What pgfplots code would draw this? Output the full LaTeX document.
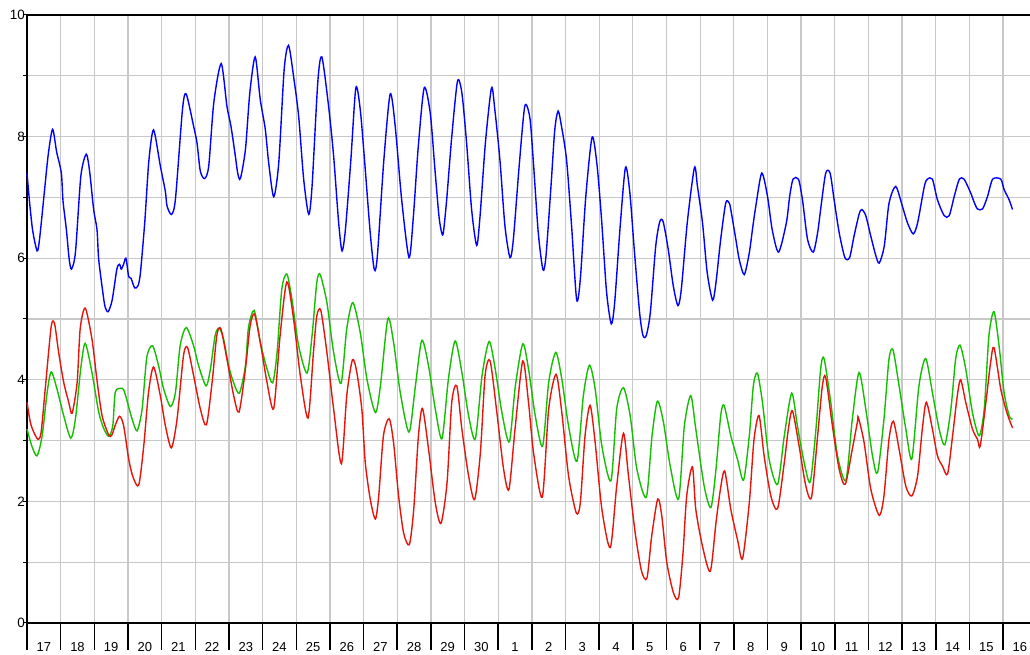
\documentclass[border=0pt]{standalone}
\usepackage{fontspec}
\setmainfont{Liberation Sans}
\usepackage{pgfplots}
\pgfplotsset{compat=1.18}
\definecolor{cblue}{RGB}{0,0,255}
\definecolor{cred}{RGB}{230,20,10}
\definecolor{cgreen}{RGB}{20,190,0}
\definecolor{cgrid}{RGB}{200,200,200}
\begin{document}
\begin{tikzpicture}
\useasboundingbox (-27pt,-32pt) rectangle (1003pt,623pt);
\begin{axis}[
  scale only axis, width=1003pt, height=608pt,
  xmin=0, xmax=29.8, ymin=0, ymax=10,
  clip=false,
  axis x line*=bottom, axis y line*=left,
  axis line style={black, line width=1.5pt},
  xtick={0.5,1.5,...,29.5},
  xticklabels={17,18,19,20,21,22,23,24,25,26,27,28,29,30,1,2,3,4,5,6,7,8,9,10,11,12,13,14,15,16},
  minor xtick={0,...,29},
  ytick={0,...,10},
  yticklabels={0,,2,,4,,6,,8,,10},
  tick align=outside,
  major tick length=4pt,
  minor tick length=27pt,
  major x tick style={draw=none},
  minor x tick style={black, line width=1.5pt},
  y tick style={black, line width=1pt},
  xticklabel style={font=\fontsize{13}{15}\selectfont, anchor=north, inner sep=0pt, yshift=-15pt},
  yticklabel style={font=\fontsize{13.5}{15}\selectfont, anchor=east, inner sep=0pt, xshift=2pt},
  xmajorgrids=false, xminorgrids=true, ymajorgrids=true,
  major grid style={cgrid, line width=1.3pt},
  minor grid style={cgrid, line width=1.3pt},
  every axis plot/.append style={line width=1.4pt, smooth, tension=0.45},
]
\addplot[cblue] coordinates {
(0,7.40)(0.08,6.9)(0.17,6.45)(0.30,6.12)(0.37,6.30)(0.50,7.0)(0.63,7.7)(0.76,8.12)(0.88,7.75)(1.02,7.40)(1.07,6.94)(1.17,6.47)(1.25,6.0)(1.32,5.82)(1.44,6.10)(1.60,7.35)(1.76,7.71)(1.86,7.43)(1.98,6.80)(2.08,6.47)(2.13,5.98)(2.25,5.45)(2.32,5.20)(2.41,5.12)(2.53,5.31)(2.67,5.82)(2.75,5.90)(2.80,5.82)(2.87,5.90)(2.94,6.00)(3.02,5.70)(3.09,5.67)(3.20,5.51)(3.30,5.55)(3.37,5.76)(3.50,6.6)(3.62,7.6)(3.76,8.11)(3.96,7.52)(4.11,7.10)(4.16,6.86)(4.29,6.72)(4.41,6.97)(4.62,8.45)(4.73,8.70)(4.95,8.17)(5.05,7.90)(5.15,7.43)(5.28,7.31)(5.40,7.52)(5.55,8.56)(5.77,9.20)(5.94,8.50)(6.06,8.17)(6.19,7.68)(6.26,7.40)(6.34,7.31)(6.49,7.79)(6.62,8.72)(6.78,9.31)(6.93,8.61)(7.08,8.12)(7.18,7.57)(7.33,7.01)(7.48,7.57)(7.64,9.1)(7.77,9.50)(7.92,8.99)(8.07,8.34)(8.22,7.30)(8.37,6.72)(8.47,7.19)(8.64,8.9)(8.76,9.31)(8.96,8.50)(9.11,7.68)(9.26,6.58)(9.36,6.12)(9.46,6.47)(9.62,7.6)(9.77,8.80)(9.90,8.45)(10.03,7.6)(10.20,6.4)(10.32,5.81)(10.41,6.04)(10.60,7.6)(10.79,8.70)(10.94,8.17)(11.13,6.97)(11.35,6.01)(11.48,6.69)(11.62,7.8)(11.80,8.80)(11.98,8.39)(12.12,7.46)(12.24,6.69)(12.32,6.42)(12.37,6.42)(12.47,6.97)(12.62,8.0)(12.79,8.91)(12.92,8.72)(13.06,7.90)(13.21,6.80)(13.36,6.21)(13.46,6.69)(13.62,7.9)(13.80,8.80)(13.90,8.44)(14.05,7.62)(14.20,6.53)(14.35,6.01)(14.45,6.31)(14.62,7.5)(14.79,8.50)(14.94,8.31)(15.04,7.62)(15.19,6.42)(15.33,5.81)(15.42,6.04)(15.57,7.2)(15.68,8.11)(15.78,8.42)(15.88,8.17)(16.03,7.62)(16.18,6.53)(16.33,5.32)(16.44,5.66)(16.60,7.0)(16.79,7.99)(16.94,7.51)(17.07,6.64)(17.22,5.44)(17.36,4.92)(17.46,5.27)(17.62,6.5)(17.78,7.49)(17.91,7.08)(18.05,6.09)(18.20,5.11)(18.30,4.73)(18.40,4.73)(18.52,5.11)(18.68,6.2)(18.80,6.60)(18.90,6.60)(19.05,6.15)(19.20,5.55)(19.34,5.22)(19.44,5.49)(19.62,6.6)(19.83,7.49)(19.92,7.18)(20.07,6.58)(20.21,5.76)(20.37,5.31)(20.47,5.60)(20.61,6.31)(20.76,6.91)(20.86,6.91)(20.91,6.80)(21.06,6.31)(21.16,5.98)(21.31,5.73)(21.46,6.09)(21.56,6.50)(21.66,6.88)(21.83,7.40)(22.00,7.02)(22.14,6.47)(22.33,6.10)(22.56,6.58)(22.66,7.02)(22.76,7.30)(22.92,7.30)(23.04,6.96)(23.19,6.31)(23.36,6.10)(23.49,6.42)(23.59,6.85)(23.73,7.40)(23.86,7.40)(23.98,6.96)(24.13,6.42)(24.30,6.01)(24.44,6.01)(24.57,6.36)(24.72,6.72)(24.80,6.80)(24.92,6.70)(25.07,6.36)(25.22,6.04)(25.32,5.92)(25.47,6.20)(25.61,6.90)(25.81,7.18)(26.01,6.85)(26.16,6.58)(26.33,6.40)(26.46,6.58)(26.66,7.18)(26.75,7.30)(26.90,7.30)(27.05,6.96)(27.25,6.70)(27.40,6.70)(27.55,7.02)(27.70,7.30)(27.84,7.30)(28.04,7.07)(28.14,6.92)(28.24,6.81)(28.39,6.81)(28.54,7.02)(28.69,7.30)(28.93,7.30)(29.03,7.13)(29.18,6.96)(29.28,6.80)
};
\addplot[cgreen] coordinates {
(0.00,3.19)(0.15,2.90)(0.30,2.75)(0.45,3.08)(0.60,3.8)(0.72,4.13)(0.89,3.85)(1.09,3.41)(1.30,3.04)(1.44,3.36)(1.60,4.2)(1.73,4.60)(1.93,4.12)(2.13,3.47)(2.28,3.20)(2.43,3.07)(2.55,3.25)(2.62,3.79)(2.77,3.86)(2.87,3.84)(2.97,3.66)(3.12,3.36)(3.27,3.16)(3.42,3.52)(3.56,4.37)(3.73,4.56)(3.91,4.23)(4.06,3.85)(4.26,3.56)(4.41,3.79)(4.55,4.56)(4.73,4.86)(4.95,4.56)(5.10,4.23)(5.32,3.90)(5.45,4.18)(5.59,4.73)(5.71,4.85)(5.84,4.67)(5.99,4.23)(6.14,3.95)(6.31,3.78)(6.49,4.23)(6.58,4.86)(6.75,5.14)(6.93,4.62)(7.13,4.18)(7.30,3.95)(7.43,4.45)(7.57,5.49)(7.72,5.74)(7.87,5.33)(8.07,4.56)(8.32,4.11)(8.47,4.73)(8.61,5.60)(8.71,5.73)(8.91,5.27)(9.11,4.45)(9.33,3.94)(9.50,4.84)(9.68,5.27)(9.90,4.78)(10.10,4.01)(10.35,3.46)(10.50,3.90)(10.72,5.00)(10.89,4.62)(11.09,3.79)(11.35,3.14)(11.54,3.90)(11.73,4.65)(11.93,4.23)(12.13,3.52)(12.33,3.03)(12.52,4.01)(12.72,4.64)(12.92,4.12)(13.12,3.41)(13.32,3.03)(13.52,4.07)(13.73,4.63)(13.91,4.18)(14.11,3.46)(14.33,2.98)(14.51,3.90)(14.73,4.59)(14.90,4.18)(15.10,3.41)(15.32,2.91)(15.50,3.96)(15.71,4.45)(15.89,4.01)(16.09,3.24)(16.34,2.66)(16.53,3.74)(16.71,4.24)(16.88,3.85)(17.08,2.91)(17.35,2.34)(17.52,3.52)(17.72,3.87)(17.92,3.41)(18.12,2.53)(18.40,2.07)(18.57,3.08)(18.73,3.65)(18.91,3.30)(19.11,2.58)(19.36,2.04)(19.53,3.24)(19.72,3.74)(19.87,3.19)(20.12,2.25)(20.32,1.90)(20.47,2.53)(20.61,3.41)(20.71,3.58)(20.91,3.08)(21.11,2.69)(21.29,2.35)(21.46,3.08)(21.58,3.90)(21.70,4.11)(21.85,3.63)(22.05,2.69)(22.30,2.28)(22.50,3.08)(22.72,3.78)(22.89,3.24)(23.09,2.64)(23.27,2.32)(23.44,3.19)(23.58,4.18)(23.68,4.35)(23.88,3.63)(24.08,2.75)(24.33,2.35)(24.52,3.35)(24.72,4.12)(24.92,3.52)(25.12,2.75)(25.27,2.47)(25.46,3.35)(25.61,4.34)(25.73,4.49)(25.91,3.90)(26.11,3.19)(26.29,2.70)(26.50,3.90)(26.70,4.35)(26.90,3.79)(27.10,3.19)(27.27,2.93)(27.45,3.52)(27.59,4.34)(27.72,4.57)(27.89,4.18)(28.09,3.46)(28.29,3.08)(28.44,3.52)(28.58,4.73)(28.73,5.12)(28.88,4.56)(29.03,3.79)(29.18,3.41)(29.28,3.35)
};
\addplot[cred] coordinates {
(0.00,3.63)(0.10,3.30)(0.20,3.14)(0.33,3.02)(0.42,3.14)(0.55,3.90)(0.72,4.88)(0.82,4.92)(0.94,4.45)(1.09,3.96)(1.24,3.63)(1.34,3.45)(1.49,3.96)(1.58,4.84)(1.73,5.18)(1.93,4.67)(2.08,3.99)(2.23,3.41)(2.43,3.09)(2.52,3.09)(2.62,3.25)(2.75,3.40)(2.87,3.25)(3.02,2.70)(3.15,2.40)(3.32,2.27)(3.47,2.92)(3.61,3.79)(3.76,4.21)(3.96,3.74)(4.11,3.25)(4.29,2.88)(4.46,3.36)(4.65,4.40)(4.77,4.53)(4.95,4.07)(5.15,3.52)(5.33,3.26)(5.50,3.96)(5.64,4.73)(5.76,4.84)(5.94,4.34)(6.14,3.74)(6.30,3.47)(6.49,4.18)(6.63,4.89)(6.76,5.08)(6.93,4.62)(7.13,3.96)(7.33,3.53)(7.52,4.73)(7.72,5.61)(7.92,5.00)(8.12,4.07)(8.35,3.37)(8.51,4.45)(8.61,5.05)(8.73,5.14)(8.91,4.45)(9.11,3.52)(9.34,2.62)(9.50,3.74)(9.67,4.33)(9.80,4.12)(9.95,3.50)(10.05,2.64)(10.20,2.03)(10.35,1.71)(10.45,2.09)(10.59,3.08)(10.76,3.36)(10.89,2.97)(11.04,2.09)(11.19,1.48)(11.36,1.29)(11.49,1.87)(11.63,3.08)(11.75,3.53)(11.93,2.86)(12.13,1.98)(12.30,1.64)(12.48,2.31)(12.62,3.63)(12.77,3.90)(12.92,3.19)(13.12,2.42)(13.30,2.03)(13.47,2.80)(13.61,4.07)(13.76,4.31)(13.96,3.46)(14.16,2.53)(14.32,2.20)(14.50,3.19)(14.73,4.31)(14.90,3.63)(15.05,2.80)(15.31,2.07)(15.50,3.52)(15.72,4.09)(15.89,3.46)(16.09,2.42)(16.32,1.81)(16.44,1.98)(16.58,3.08)(16.73,3.58)(16.88,2.97)(17.08,1.87)(17.33,1.24)(17.52,2.25)(17.72,3.12)(17.87,2.42)(18.07,1.48)(18.26,0.85)(18.42,0.74)(18.56,1.43)(18.74,2.04)(18.86,1.76)(19.01,0.99)(19.21,0.49)(19.36,0.42)(19.49,1.15)(19.60,2.09)(19.77,2.57)(19.87,1.87)(20.07,1.26)(20.30,0.85)(20.47,1.65)(20.61,2.23)(20.73,2.50)(20.91,1.87)(21.11,1.37)(21.26,1.06)(21.46,1.98)(21.60,3.02)(21.75,3.41)(21.90,2.75)(22.10,2.09)(22.30,1.88)(22.50,2.64)(22.62,3.19)(22.74,3.49)(22.94,2.91)(23.14,2.25)(23.31,2.07)(23.49,3.08)(23.63,3.90)(23.73,4.04)(23.93,3.24)(24.13,2.53)(24.31,2.28)(24.52,2.86)(24.67,3.30)(24.70,3.38)(24.87,2.97)(25.07,2.20)(25.32,1.77)(25.46,2.09)(25.61,3.02)(25.74,3.32)(25.91,2.86)(26.11,2.25)(26.29,2.09)(26.46,2.42)(26.60,3.19)(26.72,3.63)(26.90,3.19)(27.05,2.75)(27.20,2.58)(27.35,2.45)(27.50,3.08)(27.64,3.74)(27.74,4.00)(27.89,3.63)(28.09,3.19)(28.24,3.02)(28.32,2.91)(28.49,3.63)(28.63,4.29)(28.73,4.53)(28.93,3.85)(29.08,3.52)(29.18,3.35)(29.28,3.21)
};
\draw[black, line width=1.5pt] (rel axis cs:0,1) -- (rel axis cs:1,1);
\end{axis}
\end{tikzpicture}
\end{document}
